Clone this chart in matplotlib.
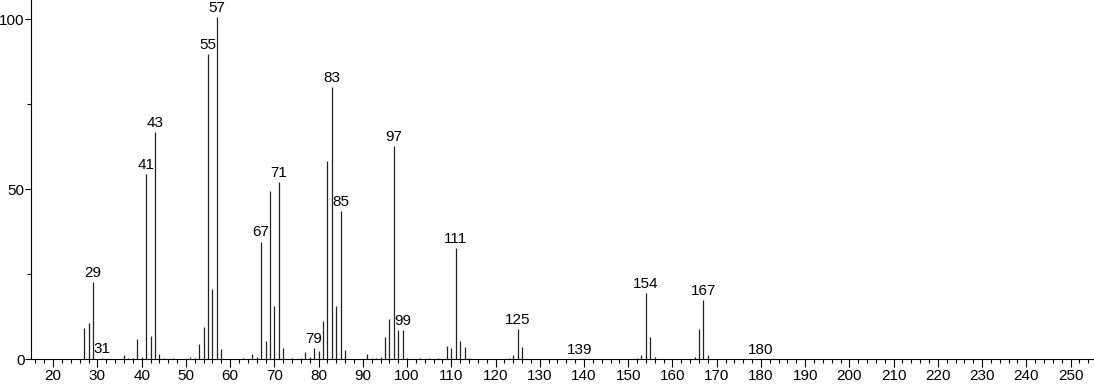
import matplotlib
matplotlib.use("Agg")
import matplotlib.pyplot as plt
from matplotlib.ticker import MultipleLocator

# m/z and relative intensity
mz = [27, 28, 29, 31, 36, 37, 38, 39, 40, 41, 42, 43, 44, 45, 47, 51, 52, 53, 54, 55,
      56, 57, 58, 63, 65, 66, 67, 68, 69, 70, 71, 72, 74, 76, 77, 78, 79, 80, 81, 82,
      83, 84, 85, 86, 91, 92, 93, 94, 95, 96, 97, 98, 99, 100, 103, 105, 107, 109, 110,
      111, 112, 113, 114, 123, 124, 125, 126, 139, 152, 153, 154, 155, 156, 165, 166,
      167, 168, 180]
intensity = [9.1, 10.7, 22.8, 0.3, 1.4, 0.5, 0.4, 5.9, 0.6, 54.5, 6.9, 66.8, 1.5, 0.4, 0.3,
             0.6, 0.3, 4.4, 9.4, 89.8, 20.6, 100.5, 3.1, 0.3, 1.5, 0.8, 34.6, 5.4, 49.4,
             15.7, 52.0, 3.2, 0.3, 0.3, 2.2, 0.6, 3.2, 2.5, 11.3, 58.2, 80.1, 15.6, 43.6,
             2.7, 1.6, 0.5, 0.5, 0.7, 6.6, 11.9, 62.7, 8.6, 8.6, 0.5, 0.3, 0.3, 0.3, 4.0,
             3.2, 32.6, 5.4, 3.6, 0.3, 0.5, 1.3, 8.8, 3.5, 0.2, 0.3, 1.4, 19.6, 6.6, 0.6,
             0.6, 8.9, 17.3, 1.4, 0.2]
labelled = [29, 31, 41, 43, 55, 57, 67, 71, 79, 83, 85, 97, 99, 111, 125, 139, 154, 167, 180]

plt.rcParams['font.family'] = ['Liberation Sans', 'DejaVu Sans']

fig = plt.figure(figsize=(10.94, 3.84), dpi=100)
ax = fig.add_axes([0.028, 0.0643, 0.972, 0.9357])

ax.vlines(mz, 0, intensity, colors='#222222', linewidth=0.9)
for m, h in zip(mz, intensity):
    if m in labelled:
        ax.annotate(str(m), (m, h), xytext=(0, 1.5), textcoords='offset points',
                    ha='center', va='bottom', fontsize=11)

ax.set_xlim(14.9, 255.3)
ax.set_ylim(0, 105.6)
ax.xaxis.set_major_locator(MultipleLocator(10))
ax.xaxis.set_minor_locator(MultipleLocator(2))
ax.yaxis.set_major_locator(MultipleLocator(50))
ax.yaxis.set_minor_locator(MultipleLocator(25))
ax.set_xticks(range(20, 251, 10))
ax.tick_params(axis='x', which='major', labelsize=11, length=6, width=0.8, pad=1)
ax.tick_params(axis='y', which='major', labelsize=11, length=4, width=0.8, pad=0.5)
ax.tick_params(axis='both', which='minor', length=3, width=0.8)
for s in ['top', 'right']:
    ax.spines[s].set_visible(False)
for s in ['left', 'bottom']:
    ax.spines[s].set_linewidth(0.8)

fig.savefig("out.png", dpi=100)
